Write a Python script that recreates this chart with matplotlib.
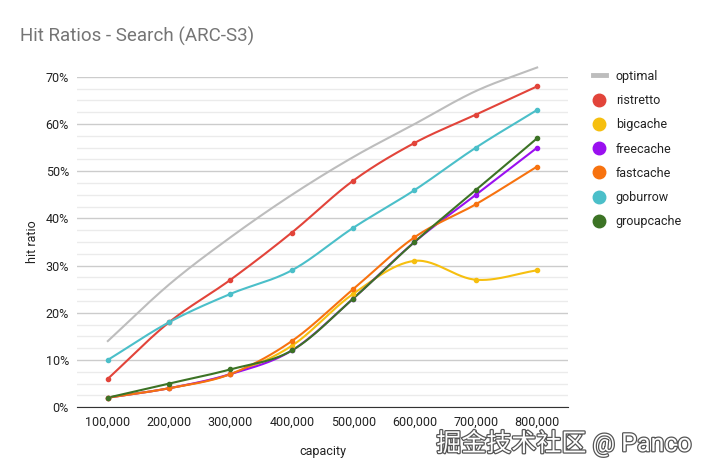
import numpy as np
import matplotlib.pyplot as plt
import matplotlib.patheffects as pe
from matplotlib.ticker import MultipleLocator, FuncFormatter
from matplotlib.lines import Line2D

plt.rcParams['font.family'] = ['Roboto', 'Noto Sans CJK SC', 'DejaVu Sans']

capacity = ['100,000', '200,000', '300,000', '400,000', '500,000', '600,000', '700,000', '800,000']
optimal = [14, 26, 36, 45, 53, 60, 67, 72]
ristretto = [6, 18, 27, 37, 48, 56, 62, 68]
bigcache = [2, 4, 7, 13, 24, 31, 27, 29]
freecache = [2, 4, 7, 12, 23, 35, 45, 55]
fastcache = [2, 4, 7, 14, 25, 36, 43, 51]
goburrow = [10, 18, 24, 29, 38, 46, 55, 63]
groupcache = [2, 5, 8, 12, 23, 35, 46, 57]

series = [
    ('optimal', optimal, '#bdbdbd'),
    ('ristretto', ristretto, '#e2443a'),
    ('bigcache', bigcache, '#f6bf0f'),
    ('freecache', freecache, '#9a10f0'),
    ('fastcache', fastcache, '#f7720f'),
    ('goburrow', goburrow, '#4bbfc9'),
    ('groupcache', groupcache, '#3c7325'),
]


def smooth(x, y, n=30, t=0.5):
    # catmull-rom style smoothing, like google charts curveType function
    x = np.asarray(x, float)
    y = np.asarray(y, float)
    px = np.concatenate([[2 * x[0] - x[1]], x, [2 * x[-1] - x[-2]]])
    py = np.concatenate([[2 * y[0] - y[1]], y, [2 * y[-1] - y[-2]]])
    xs, ys = [], []
    for i in range(1, len(px) - 2):
        s = np.linspace(0, 1, n)
        m1x = t * (px[i + 1] - px[i - 1])
        m1y = t * (py[i + 1] - py[i - 1])
        m2x = t * (px[i + 2] - px[i])
        m2y = t * (py[i + 2] - py[i])
        h00 = 2 * s**3 - 3 * s**2 + 1
        h10 = s**3 - 2 * s**2 + s
        h01 = -2 * s**3 + 3 * s**2
        h11 = s**3 - s**2
        xs.append(h00 * px[i] + h10 * m1x + h01 * px[i + 1] + h11 * m2x)
        ys.append(h00 * py[i] + h10 * m1y + h01 * py[i + 1] + h11 * m2y)
    return np.concatenate(xs), np.concatenate(ys)


fig = plt.figure(figsize=(7.08, 4.69), dpi=100)
ax = fig.add_axes([0.109, 0.132, 0.693, 0.704])

idx = np.arange(len(capacity))
handles = []
for name, vals, col in series:
    sx, sy = smooth(idx, np.array(vals) / 100.0)
    ax.plot(sx, sy, color=col, lw=1.5, clip_on=False, zorder=3)
    if name == 'optimal':
        handles.append(Line2D([], [], color=col, lw=3.5))
    else:
        ax.plot(idx, np.array(vals) / 100.0, 'o', color=col, ms=3, clip_on=False, zorder=4)
        handles.append(Line2D([], [], color=col, marker='o', ls='none', ms=9))

ax.set_xlim(-0.5, 7.5)
ax.set_ylim(0, 0.70)
ax.set_xticks(idx)
ax.set_xticklabels(capacity)
ax.yaxis.set_major_locator(MultipleLocator(0.1))
ax.yaxis.set_minor_locator(MultipleLocator(0.025))
ax.yaxis.set_major_formatter(FuncFormatter(lambda v, p: '%d%%' % round(v * 100)))
ax.grid(axis='y', which='major', color='#cccccc', lw=1)
ax.grid(axis='y', which='minor', color='#ebebeb', lw=1)
ax.set_axisbelow(True)
for s in ['top', 'right', 'left']:
    ax.spines[s].set_visible(False)
ax.spines['bottom'].set_color('#333333')
ax.tick_params(which='both', length=0, labelsize=9, colors='#222222', pad=6)
ax.tick_params(axis='y', pad=6)
ax.set_xlabel('capacity', fontsize=9, color='#222222', labelpad=12)
ax.set_ylabel('hit ratio', fontsize=9, color='#222222', labelpad=5)

fig.text(0.028, 0.912, 'Hit Ratios - Search (ARC-S3)', fontsize=13.5, color='#757575')

leg = fig.legend(handles, [s[0] for s in series], loc='upper left',
                 bbox_to_anchor=(0.822, 0.875), frameon=False, fontsize=9,
                 labelspacing=0.9, handlelength=1.0, handletextpad=0.8)
for t in leg.get_texts():
    t.set_color('#222222')

wm = fig.text(0.977, 0.038, '掘金技术社区 @ Panco', ha='right', va='baseline',
              fontsize=18, color='white')
wm.set_path_effects([pe.withStroke(linewidth=1.8, foreground='#555555')])

fig.savefig('out.png', dpi=100)
